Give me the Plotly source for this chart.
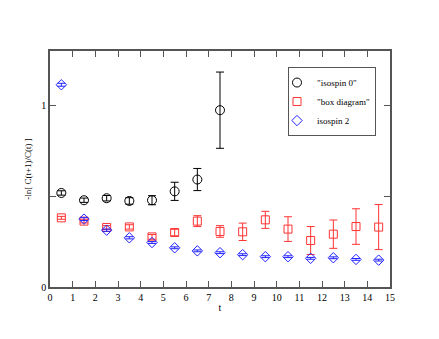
import plotly.graph_objects as go

t = [0.5, 1.5, 2.5, 3.5, 4.5, 5.5, 6.5, 7.5, 8.5, 9.5, 10.5, 11.5, 12.5, 13.5, 14.5]

iso0 = [0.518, 0.478, 0.489, 0.474, 0.478, 0.527, 0.592, 0.974]
iso0_err = [0.012, 0.012, 0.015, 0.018, 0.025, 0.05, 0.061, 0.21]

box = [0.381, 0.363, 0.328, 0.331, 0.276, 0.300, 0.363, 0.306, 0.304, 0.370,
       0.319, 0.256, 0.291, 0.333, 0.330]
box_err = [0.008, 0.01, 0.01, 0.012, 0.013, 0.018, 0.03, 0.032, 0.048, 0.047,
           0.068, 0.077, 0.078, 0.098, 0.124]

iso2 = [1.114, 0.374, 0.313, 0.271, 0.245, 0.216, 0.199, 0.189, 0.178, 0.167,
        0.167, 0.158, 0.161, 0.152, 0.148]
iso2_err = [0.008, 0.008, 0.006, 0.006, 0.005, 0.005, 0.005, 0.005, 0.005, 0.005,
            0.005, 0.005, 0.005, 0.005, 0.005]

FONT = "Liberation Serif"
AXC = "#555555"

fig = go.Figure()
fig.add_trace(go.Scatter(
    x=t[:len(iso0)], y=iso0, mode="markers", name='"isospin 0"',
    marker=dict(symbol="circle-open", size=9, color="black", line=dict(width=1)),
    error_y=dict(type="data", array=iso0_err, color="black", thickness=1, width=4)))
fig.add_trace(go.Scatter(
    x=t, y=box, mode="markers", name='"box diagram"',
    marker=dict(symbol="square-open", size=8, color="#ff3333", line=dict(width=1)),
    error_y=dict(type="data", array=box_err, color="#ff3333", thickness=1, width=4)))
fig.add_trace(go.Scatter(
    x=t, y=iso2, mode="markers", name="isospin 2",
    marker=dict(symbol="diamond-open", size=8, color="#2222ff", line=dict(width=1)),
    error_y=dict(type="data", array=iso2_err, color="#2222ff", thickness=1, width=4)))

axis_common = dict(showline=True, linecolor=AXC, linewidth=1.5, mirror="ticks",
                   ticks="inside", ticklen=6, tickcolor=AXC, showgrid=False,
                   zeroline=False, tickfont=dict(family=FONT, size=10, color="black"))
fig.update_xaxes(range=[0, 15], dtick=1, tick0=0,
                 title=dict(text="t", font=dict(family=FONT, size=10), standoff=2),
                 **axis_common)
fig.update_yaxes(range=[0, 1.3], tickvals=[0, 0.5, 1], ticktext=["0", "", "1"],
                 title=dict(text="-ln[ C(t+1)/C(t) ]", font=dict(family=FONT, size=9),
                            standoff=8),
                 **axis_common)

fig.update_layout(
    width=439, height=339,
    margin=dict(l=42, r=57, t=43, b=60),
    plot_bgcolor="white", paper_bgcolor="white",
    font=dict(family=FONT, size=10, color="black"),
    legend=dict(x=0.70, y=0.932, xanchor="left", yanchor="top",
                bordercolor=AXC, borderwidth=1, bgcolor="white",
                font=dict(family=FONT, size=9), itemwidth=30,
                tracegroupgap=0, indentation=-12),
)

fig.write_html("out.html")
